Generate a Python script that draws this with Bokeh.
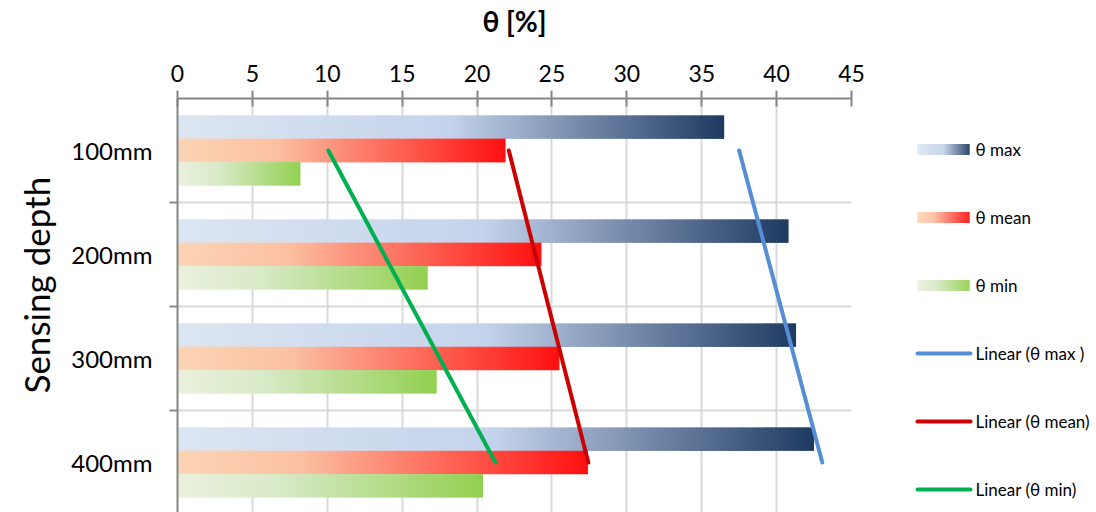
import numpy as np
from bokeh.plotting import figure
from bokeh.models import FixedTicker, Range1d, Title
from bokeh.layouts import row
from bokeh.core.properties import value
from bokeh.embed import file_html
from bokeh.resources import INLINE

# ---------------- data ----------------
categories = ["100mm", "200mm", "300mm", "400mm"]
theta_max = [36.5, 40.8, 41.3, 42.5]
theta_mean = [21.9, 24.3, 25.5, 27.4]
theta_min = [8.2, 16.7, 17.3, 20.4]
x_ticks = [0, 5, 10, 15, 20, 25, 30, 35, 40, 45]
series_names = ["θ max", "θ mean", "θ min"]
trend_names = ["Linear (θ max )", "Linear (θ mean)", "Linear (θ min)"]
x_title = "θ [%]"
y_title = "Sensing depth"

# ---------------- style ----------------
FONT = "Lato"
max_stops = [(0.0, "#DCE6F2"), (0.5, "#C4D3EC"), (1.0, "#1E3A61")]
mean_stops = [(0.0, "#FCD5B5"), (0.3, "#FBC0A2"), (1.0, "#FF1010")]
min_stops = [(0.0, "#EBF1DE"), (0.35, "#D7E9C5"), (1.0, "#92D050")]
trend_colors = ["#558ED5", "#CC0000", "#00B050"]
GRID = "#D9D9D9"
AXIS = "#868686"
NSL = 160
BAR_H = 0.224
FRAME_TOP = 98
BAND_PX = 104


def hex2rgb(h):
    h = h.lstrip("#")
    return np.array([int(h[i:i + 2], 16) for i in (0, 2, 4)], dtype=float)


def grad_color(stops, t):
    for (t0, c0), (t1, c1) in zip(stops[:-1], stops[1:]):
        if t <= t1:
            f = (t - t0) / (t1 - t0) if t1 > t0 else 0
            c = hex2rgb(c0) * (1 - f) + hex2rgb(c1) * f
            return "#%02x%02x%02x" % tuple(int(round(v)) for v in c)
    return stops[-1][1]


def gradient_slices(starts, ends, ys, stops):
    L, R, Y, C = [], [], [], []
    for s, e, y in zip(starts, ends, ys):
        w = (e - s) / NSL
        for i in range(NSL):
            L.append(s + w * i)
            # slight overlap with the next slice hides antialiasing seams
            R.append(s + w * (i + 1) + (0.8 * w if i < NSL - 1 else 0))
            Y.append(y)
            C.append(grad_color(stops, (i + 0.5) / NSL))
    return L, R, Y, C


n = len(categories)
centers = [i + 0.5 for i in range(n)]
bounds = [i for i in range(1, n)]

# ---------------- main figure ----------------
p = figure(width=880, height=512, output_backend="svg", toolbar_location=None,
           x_axis_location="above",
           x_range=Range1d(0, 45),
           y_range=Range1d((512 - FRAME_TOP) / BAND_PX, 0),
           min_border_left=176, min_border_right=29, min_border_top=FRAME_TOP,
           min_border_bottom=0)
p.outline_line_color = None
p.background_fill_color = "white"
p.border_fill_color = "white"

series = [theta_max, theta_mean, theta_min]
stops_all = [max_stops, mean_stops, min_stops]
offsets = [-BAR_H, 0.0, BAR_H]
for vals, stops, off in zip(series, stops_all, offsets):
    ys = [c + off for c in centers]
    L, R, Y, C = gradient_slices([0] * n, vals, ys, stops)
    p.hbar(y=Y, left=L, right=R, height=BAR_H, fill_color=C, line_color=None)

# linear trend lines (least-squares over category index)
idx = np.arange(1, n + 1)
for vals, col in zip(series, trend_colors):
    b, a = np.polyfit(idx, vals, 1)
    fit = a + b * idx
    p.line(x=list(fit), y=centers, line_color=col, line_width=4,
           line_cap="round")

# x axis (top)
p.xaxis.ticker = FixedTicker(ticks=x_ticks)
p.xgrid.ticker = FixedTicker(ticks=x_ticks)
p.xaxis.axis_label = x_title
p.xaxis.axis_label_text_font = FONT
p.xaxis.axis_label_text_font_style = "bold"
p.xaxis.axis_label_text_font_size = "28px"
p.xaxis.axis_label_text_color = "black"
p.xaxis.axis_label_standoff = 24
p.xaxis.major_label_text_font = FONT
p.xaxis.major_label_text_font_size = "23px"
p.xaxis.major_label_text_color = "black"
p.xaxis.major_label_standoff = 9
p.xaxis.major_tick_in = 8
p.xaxis.major_tick_out = 8
p.xaxis.minor_tick_line_color = None
p.xaxis.axis_line_color = AXIS
p.xaxis.axis_line_width = 2
p.xaxis.major_tick_line_color = AXIS
p.xaxis.major_tick_line_width = 2
p.xgrid.grid_line_color = GRID
p.xgrid.grid_line_width = 2

# y axis (left)
yt = FixedTicker(ticks=centers, minor_ticks=bounds)
p.yaxis.ticker = yt
p.ygrid.ticker = yt
p.yaxis.major_label_overrides = {c: lab for c, lab in zip(centers, categories)}
p.yaxis.major_label_text_font = FONT
p.yaxis.major_label_text_font_size = "24px"
p.yaxis.major_label_text_color = "black"
p.yaxis.major_label_standoff = 17
p.yaxis.major_tick_out = 0
p.yaxis.major_tick_in = 0
p.yaxis.minor_tick_out = 8
p.yaxis.minor_tick_in = 0
p.yaxis.minor_tick_line_color = AXIS
p.yaxis.minor_tick_line_width = 2
p.yaxis.axis_line_color = AXIS
p.yaxis.axis_line_width = 2
p.ygrid.grid_line_color = None
p.ygrid.minor_grid_line_color = GRID
p.ygrid.minor_grid_line_width = 2

# y axis title as a left-side title, starting 119px above the frame bottom
p.add_layout(Title(text=y_title, align="left", offset=119, standoff=24,
                   text_font=FONT, text_font_size="35px",
                   text_font_style="normal", text_color="black"), "left")

# ---------------- legend figure ----------------
lg = figure(width=216, height=512, output_backend="svg", toolbar_location=None,
            x_range=Range1d(880, 1096), y_range=Range1d(512, FRAME_TOP),
            x_axis_type=None, y_axis_type=None,
            min_border_left=0, min_border_right=0, min_border_top=FRAME_TOP,
            min_border_bottom=0)
lg.outline_line_color = None
lg.grid.visible = False
lg.background_fill_color = "white"
lg.border_fill_color = "white"

leg_y = [149, 217, 285, 353, 421, 489]
sw_x0, sw_x1, txt_x = 917, 969, 975
for k, stops in enumerate(stops_all):
    L, R, Y, C = gradient_slices([sw_x0], [sw_x1], [leg_y[k]], stops)
    lg.hbar(y=Y, left=L, right=R, height=11, fill_color=C, line_color=None)
for k, col in enumerate(trend_colors):
    lg.segment(x0=[sw_x0], x1=[sw_x1 + 1], y0=[leg_y[3 + k]], y1=[leg_y[3 + k]],
               line_color=col, line_width=4, line_cap="round")
lg.text(x=[txt_x] * 6, y=leg_y, text=series_names + trend_names,
        text_font=value(FONT), text_font_size="17px", text_color="black",
        text_baseline="middle", text_align="left")

layout = row(p, lg)
open("out.html", "w").write(file_html(layout, INLINE))
